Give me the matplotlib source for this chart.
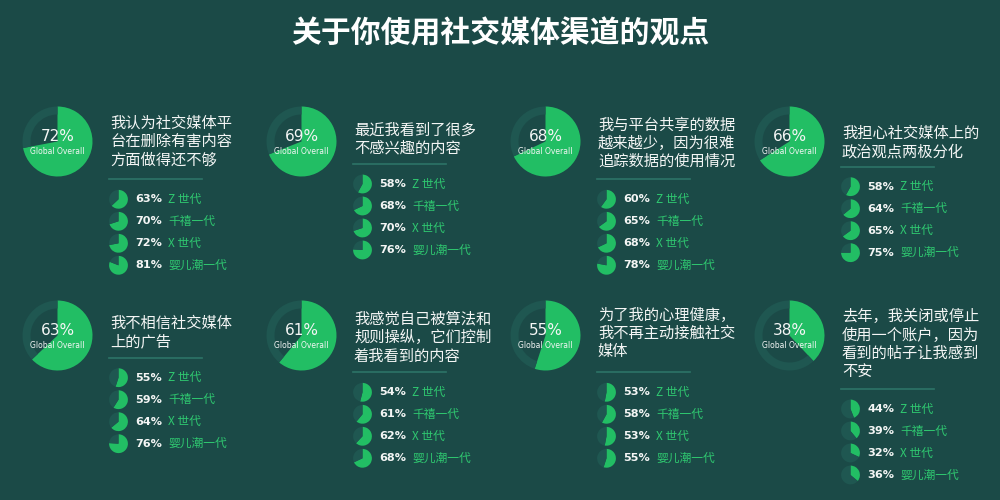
import matplotlib
matplotlib.use("Agg")
import matplotlib.pyplot as plt

# ---------------- data ----------------
main_title = "关于你使用社交媒体渠道的观点"
questions = [
    "我认为社交媒体平\n台在删除有害内容\n方面做得还不够",
    "最近我看到了很多\n不感兴趣的内容",
    "我与平台共享的数据\n越来越少，因为很难\n追踪数据的使用情况",
    "我担心社交媒体上的\n政治观点两极分化",
    "我不相信社交媒体\n上的广告",
    "我感觉自己被算法和\n规则操纵，它们控制\n着我看到的内容",
    "为了我的心理健康，\n我不再主动接触社交\n媒体",
    "去年，我关闭或停止\n使用一个账户，因为\n看到的帖子让我感到\n不安",
]
overall = [72, 69, 68, 66, 63, 61, 55, 38]
gen_labels = ["Z 世代", "千禧一代", "X 世代", "婴儿潮一代"]
gen_z = [63, 58, 60, 58, 55, 54, 53, 44]
millennials = [70, 68, 65, 64, 59, 61, 58, 39]
gen_x = [72, 70, 68, 65, 64, 62, 53, 32]
boomers = [81, 76, 78, 75, 76, 68, 55, 36]

# ---------------- layout (pixels) ----------------
W, H = 1000, 500
col_x = [57.5, 301.5, 545.5, 789.5]
row_y = [141.5, 335.5]
title_y0 = [123.3, 130, 125, 133.3, 323.3, 319.3, 315, 316.7]
divider_y = [179.3, 164, 179.3, 166.7, 357.7, 372.3, 372.3, 389]
donut_r = 35
ring_w = 8
small_r = 9.4

BG = "#1b4a47"
RING = "#1f5751"
GREEN = "#22be64"
LABEL_GREEN = "#2fc870"
DIVIDER = "#2d7467"
WHITE = "#f4f6f5"

fig = plt.figure(figsize=(W / 100, H / 100), dpi=100, facecolor=BG)
bg = fig.add_axes([0, 0, 1, 1])
bg.set_xlim(0, W)
bg.set_ylim(H, 0)
bg.axis("off")
bg.set_zorder(10)
bg.patch.set_alpha(0)

CJK = ["Noto Sans CJK SC", "DejaVu Sans"]

bg.text(W / 2, 33, main_title, ha="center", va="center", color="white",
        fontsize=21.5, fontweight="bold", family=CJK)


def pie_axes(cx, cy, r):
    return fig.add_axes([(cx - r) / W, 1 - (cy + r) / H, 2 * r / W, 2 * r / H])


gens = [gen_z, millennials, gen_x, boomers]

for i in range(8):
    cx = col_x[i % 4]
    cy = row_y[i // 4]
    # big donut
    ax = pie_axes(cx, cy, donut_r)
    wedges, _ = ax.pie([overall[i], 100 - overall[i]], colors=[GREEN, RING],
                       startangle=90, counterclock=False, radius=1)
    wedges[1].set_width(ring_w / donut_r)
    ax.set_xlim(-1, 1)
    ax.set_ylim(-1, 1)
    ax.axis("off")
    bg.text(cx, cy - 5, f"{overall[i]}%", ha="center", va="center",
            color=WHITE, fontsize=11, fontweight="medium",
            family=["DejaVu Sans"])
    bg.text(cx, cy + 9.5, "Global Overall", ha="center", va="center",
            color=WHITE, fontsize=5.5, family=["DejaVu Sans"])

    # question text
    tx = cx + 52.5
    for j, line in enumerate(questions[i].split("\n")):
        bg.text(tx, title_y0[i] + j * 18.3, line, ha="left", va="center",
                color=WHITE, fontsize=11, family=CJK)

    # divider
    bg.plot([tx - 1.5, tx + 92], [divider_y[i]] * 2, color=DIVIDER, lw=1.2)

    # generation pies
    px = tx + 8.5
    for k in range(4):
        py = divider_y[i] + 20 + k * 22
        v = gens[k][i]
        a2 = pie_axes(px, py, small_r)
        a2.pie([v, 100 - v], colors=[GREEN, RING], startangle=90,
               counterclock=False, radius=1)
        a2.set_xlim(-1, 1)
        a2.set_ylim(-1, 1)
        a2.axis("off")
        bg.text(px + 16.5, py, f"{v}%", ha="left", va="center", color=WHITE,
                fontsize=8.1, fontweight="bold", family=["DejaVu Sans"])
        bg.text(px + 49.5, py, gen_labels[k], ha="left", va="center",
                color=LABEL_GREEN, fontsize=8.5, family=CJK)

fig.savefig("out.png", dpi=100, facecolor=BG)
